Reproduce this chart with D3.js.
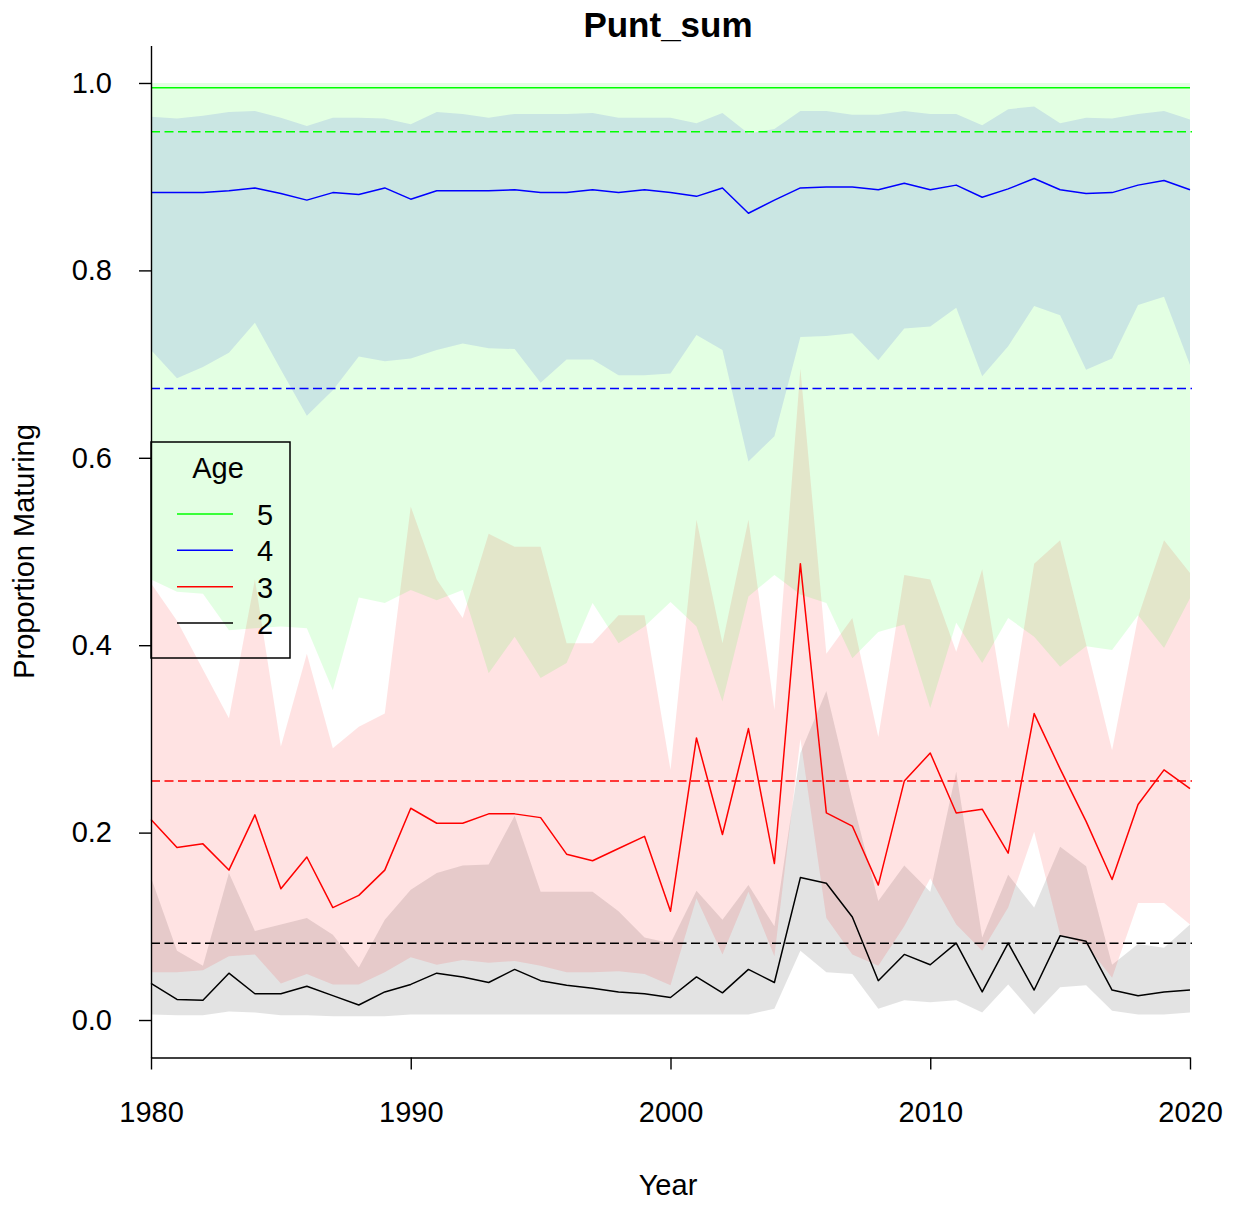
<!DOCTYPE html>
<html>
<head>
<meta charset="utf-8">
<script src="https://cdn.jsdelivr.net/npm/d3@7"></script>
<style>
  body { margin: 0; background: #fff; }
  svg { display: block; font-family: "Liberation Sans", Arial, sans-serif; }
</style>
</head>
<body>
<svg id="chart" width="1237" height="1205"></svg>
<script>
// ---- data: proportion maturing by age, with interval bounds ----
const years = [1980,1981,1982,1983,1984,1985,1986,1987,1988,1989,
               1990,1991,1992,1993,1994,1995,1996,1997,1998,1999,
               2000,2001,2002,2003,2004,2005,2006,2007,2008,2009,
               2010,2011,2012,2013,2014,2015,2016,2017,2018,2019,2020];

const age5Mid = [0.995,0.995,0.995,0.995,0.995,0.995,0.995,0.995,0.995,0.995,
                 0.995,0.995,0.995,0.995,0.995,0.995,0.995,0.995,0.995,0.995,
                 0.995,0.995,0.995,0.995,0.995,0.995,0.995,0.995,0.995,0.995,
                 0.995,0.995,0.995,0.995,0.995,0.995,0.995,0.995,0.995,0.995,0.995];
const age5Hi  = [1.000,1.000,1.000,1.000,1.000,1.000,1.000,1.000,1.000,1.000,
                 1.000,1.000,1.000,1.000,1.000,1.000,1.000,1.000,1.000,1.000,
                 1.000,1.000,1.000,1.000,1.000,1.000,1.000,1.000,1.000,1.000,
                 1.000,1.000,1.000,1.000,1.000,1.000,1.000,1.000,1.000,1.000,1.000];
const age5Lo  = [0.470,0.457,0.455,0.416,0.418,0.420,0.418,0.352,0.451,0.445,
                 0.459,0.448,0.459,0.370,0.409,0.365,0.381,0.445,0.402,0.420,
                 0.446,0.420,0.340,0.452,0.475,0.454,0.445,0.386,0.414,0.422,
                 0.333,0.424,0.381,0.429,0.409,0.377,0.399,0.395,0.432,0.397,0.450];

const age4Mid = [0.883,0.883,0.883,0.885,0.888,0.882,0.875,0.883,0.881,0.888,
                 0.876,0.885,0.885,0.885,0.886,0.883,0.883,0.886,0.883,0.886,
                 0.883,0.879,0.888,0.861,0.875,0.888,0.889,0.889,0.886,0.893,
                 0.886,0.891,0.878,0.887,0.898,0.886,0.882,0.883,0.891,0.896,0.886];
const age4Hi  = [0.964,0.962,0.965,0.969,0.970,0.963,0.954,0.963,0.963,0.962,
                 0.956,0.969,0.967,0.963,0.967,0.967,0.967,0.968,0.963,0.963,
                 0.963,0.957,0.968,0.946,0.951,0.970,0.970,0.966,0.966,0.970,
                 0.967,0.967,0.955,0.972,0.975,0.957,0.963,0.962,0.967,0.970,0.961];
const age4Lo  = [0.715,0.685,0.697,0.712,0.744,0.694,0.645,0.672,0.708,0.703,
                 0.706,0.715,0.722,0.717,0.716,0.680,0.705,0.705,0.688,0.688,
                 0.690,0.731,0.715,0.596,0.623,0.729,0.730,0.733,0.704,0.738,
                 0.740,0.760,0.687,0.719,0.762,0.752,0.694,0.706,0.763,0.772,0.699];

const age3Mid = [0.214,0.184,0.188,0.160,0.219,0.140,0.174,0.120,0.133,0.160,
                 0.226,0.210,0.210,0.220,0.220,0.216,0.177,0.170,0.183,0.196,
                 0.116,0.301,0.198,0.311,0.167,0.487,0.221,0.207,0.144,0.255,
                 0.285,0.221,0.225,0.178,0.327,0.268,0.212,0.150,0.230,0.267,0.247];
const age3Hi  = [0.466,0.426,0.374,0.322,0.470,0.292,0.391,0.290,0.313,0.327,
                 0.548,0.470,0.429,0.519,0.505,0.505,0.402,0.402,0.432,0.432,
                 0.267,0.534,0.402,0.534,0.331,0.695,0.391,0.429,0.302,0.475,
                 0.470,0.393,0.481,0.311,0.487,0.512,0.401,0.288,0.430,0.512,0.477];
const age3Lo  = [0.051,0.051,0.053,0.068,0.070,0.039,0.049,0.038,0.038,0.051,
                 0.067,0.059,0.064,0.061,0.063,0.058,0.051,0.051,0.052,0.049,
                 0.037,0.130,0.070,0.137,0.068,0.300,0.109,0.070,0.058,0.100,
                 0.151,0.102,0.074,0.120,0.201,0.091,0.080,0.045,0.125,0.125,0.102];

const age2Mid = [0.039,0.022,0.021,0.050,0.028,0.028,0.036,0.026,0.016,0.030,
                 0.038,0.050,0.046,0.040,0.054,0.042,0.037,0.034,0.030,0.028,
                 0.024,0.046,0.029,0.054,0.040,0.152,0.146,0.110,0.042,0.070,
                 0.059,0.082,0.030,0.082,0.032,0.090,0.084,0.032,0.026,0.030,0.032];
const age2Hi  = [0.152,0.074,0.058,0.157,0.095,0.102,0.109,0.091,0.056,0.107,
                 0.139,0.157,0.165,0.166,0.218,0.137,0.137,0.137,0.116,0.088,
                 0.082,0.138,0.107,0.144,0.100,0.285,0.351,0.235,0.127,0.165,
                 0.137,0.265,0.088,0.155,0.120,0.185,0.164,0.059,0.081,0.077,0.102];
const age2Lo  = [0.006,0.005,0.005,0.009,0.008,0.005,0.005,0.004,0.004,0.004,
                 0.006,0.006,0.006,0.006,0.006,0.006,0.006,0.006,0.006,0.006,
                 0.006,0.006,0.006,0.006,0.012,0.074,0.051,0.049,0.012,0.021,
                 0.019,0.021,0.008,0.038,0.006,0.035,0.037,0.010,0.006,0.006,0.008];

// long-run reference level for each age
const ages      = ["5", "4", "3", "2"];
const refLevels = [0.948, 0.674, 0.255, 0.082];
const colors    = ["#00ff00", "#0000ff", "#ff0000", "#000000"];

const yTicks = [0.0, 0.2, 0.4, 0.6, 0.8, 1.0];
const xTicks = [1980, 1990, 2000, 2010, 2020];

// ---- layout ----
const svg = d3.select("#chart");
const plot = { left: 151, right: 1190, top: 45.5, bottom: 1057.5 };

const x = d3.scaleLinear().domain([1980, 2020]).range([plot.left, plot.right]);
const y = d3.scaleLinear().domain([-0.04, 1.04]).range([plot.bottom, plot.top]);

const series = [
  { mid: age5Mid, lo: age5Lo, hi: age5Hi },
  { mid: age4Mid, lo: age4Lo, hi: age4Hi },
  { mid: age3Mid, lo: age3Lo, hi: age3Hi },
  { mid: age2Mid, lo: age2Lo, hi: age2Hi }
];

svg.append("clipPath").attr("id", "plotClip")
  .append("rect")
  .attr("x", plot.left).attr("y", plot.top)
  .attr("width", plot.right - plot.left + 3).attr("height", plot.bottom - plot.top);

const body = svg.append("g").attr("clip-path", "url(#plotClip)");

// translucent interval bands, youngest age underneath
series.map((s, i) => i).reverse().forEach(i => {
  const s = series[i];
  const area = d3.area()
    .x((d, j) => x(years[j]))
    .y0((d, j) => y(s.lo[j]))
    .y1((d, j) => y(s.hi[j]));
  body.append("path")
    .datum(years)
    .attr("d", area)
    .attr("fill", colors[i])
    .attr("fill-opacity", 0.11)
    .attr("stroke", "none");
});

// dashed reference levels
refLevels.forEach((v, i) => {
  body.append("line")
    .attr("x1", plot.left).attr("x2", plot.right + 2)
    .attr("y1", y(v)).attr("y2", y(v))
    .attr("stroke", colors[i])
    .attr("stroke-width", 1.5)
    .attr("stroke-dasharray", "9,4.5");
});

// yearly estimates
series.forEach((s, i) => {
  const line = d3.line()
    .x((d, j) => x(years[j]))
    .y((d, j) => y(s.mid[j]));
  svg.append("path")
    .datum(years)
    .attr("d", line)
    .attr("fill", "none")
    .attr("stroke", colors[i])
    .attr("stroke-width", 1.5)
    .attr("stroke-linejoin", "round");
});

// ---- axes ----
const yAxis = d3.axisLeft(y)
  .tickValues(yTicks)
  .tickFormat(d3.format(".1f"))
  .tickSize(12)
  .tickSizeOuter(0)
  .tickPadding(27);
const gy = svg.append("g")
  .attr("transform", `translate(${plot.left},0)`)
  .call(yAxis);

const xAxis = d3.axisBottom(x)
  .tickValues(xTicks)
  .tickFormat(d3.format("d"))
  .tickSize(12)
  .tickSizeOuter(0)
  .tickPadding(32);
const gx = svg.append("g")
  .attr("transform", `translate(0,${plot.bottom})`)
  .call(xAxis);

[gx, gy].forEach(g => {
  g.selectAll("path, line").attr("stroke", "#000").attr("stroke-width", 1.4);
  g.selectAll("text")
    .attr("fill", "#000")
    .style("font-size", "29px")
    .style("font-family", '"Liberation Sans", Arial, sans-serif');
});

// ---- titles ----
svg.append("text")
  .attr("x", 668).attr("y", 37)
  .attr("text-anchor", "middle")
  .style("font-size", "35px").style("font-weight", "bold")
  .text("Punt_sum");

svg.append("text")
  .attr("x", 668).attr("y", 1195)
  .attr("text-anchor", "middle")
  .style("font-size", "29px")
  .text("Year");

svg.append("text")
  .attr("transform", `translate(34,${(plot.top + plot.bottom) / 2}) rotate(-90)`)
  .attr("text-anchor", "middle")
  .style("font-size", "29px")
  .text("Proportion Maturing");

// ---- legend ----
const lg = svg.append("g");
lg.append("rect")
  .attr("x", plot.left).attr("y", 442)
  .attr("width", 290 - plot.left).attr("height", 658 - 442)
  .attr("fill", "none")
  .attr("stroke", "#000").attr("stroke-width", 1.5);

lg.append("text")
  .attr("x", 218).attr("y", 478)
  .attr("text-anchor", "middle")
  .style("font-size", "29px")
  .text("Age");

const rowY = d3.scalePoint().domain(ages).range([514, 623]);
ages.forEach((a, i) => {
  lg.append("line")
    .attr("x1", 177).attr("x2", 233)
    .attr("y1", rowY(a)).attr("y2", rowY(a))
    .attr("stroke", colors[i]).attr("stroke-width", 1.5);
  lg.append("text")
    .attr("x", 265).attr("y", rowY(a) + 11)
    .attr("text-anchor", "middle")
    .style("font-size", "29px")
    .text(a);
});
</script>
</body>
</html>
